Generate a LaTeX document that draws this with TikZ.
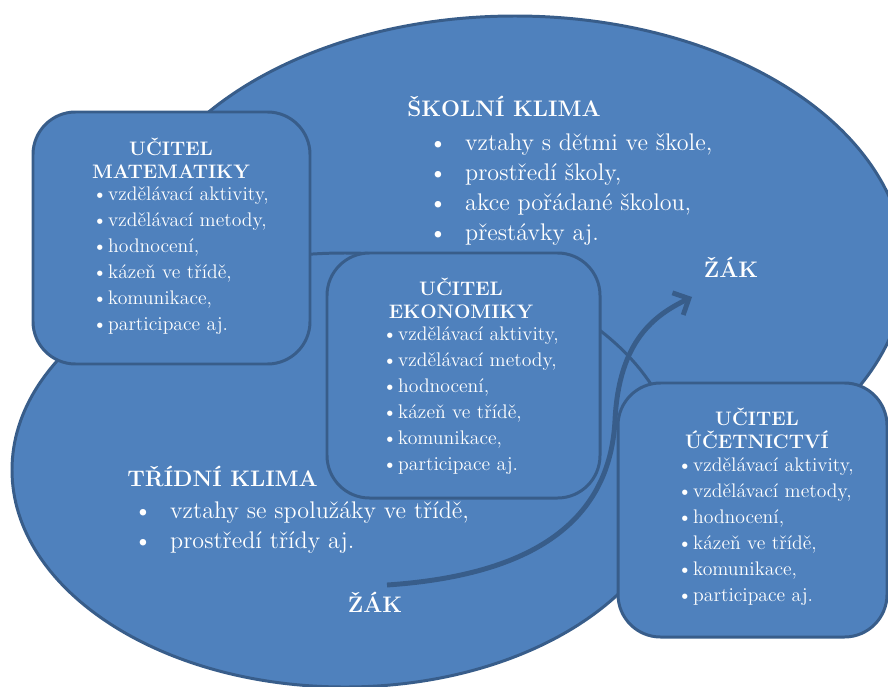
\documentclass[tikz,border=0pt]{standalone}
\usepackage{fontspec}
\usetikzlibrary{arrows.meta}
\definecolor{ellblue}{HTML}{4F81BD}
\definecolor{edgeblue}{HTML}{385D8A}
\newcommand{\teacherlist}[3]{\foreach \txt [count=\i] in {{vzdělávací aktivity,},{vzdělávací metody,},{hodnocení,},{kázeň ve třídě,},{komunikace,},{participace aj.}}
	\node[item] (#3\i) at (#1, {#2+26*(\i-1)}) {\makebox[9pt][l]{\textbullet}\txt};}

\begin{document}
\begin{tikzpicture}[x=0.02cm, y=-0.02cm,
	area/.style={fill=ellblue, draw=edgeblue, line width=1.7pt},
	teacherbox/.style={area, rounded corners=0.85cm},
	head/.style={text=white, font=\fontsize{11.1}{13.3}\selectfont\bfseries, align=center, inner sep=0pt},
	item/.style={text=white, font=\fontsize{11.2}{14}\selectfont, anchor=mid west, inner sep=0pt},
	bigitem/.style={text=white, font=\fontsize{13.7}{17}\selectfont, anchor=mid west, inner sep=0pt},
	bigtitle/.style={text=white, font=\fontsize{12.8}{17}\selectfont\bfseries, inner sep=0pt}]
			%%%%% START %%%%%
			
			\useasboundingbox (0,0) rectangle (888,686);
			\clip (0,0) rectangle (888,686);
			
			\draw[area] (515,268) ellipse [x radius=390, y radius=252];
			\draw[area] (345,470) ellipse [x radius=333, y radius=217];
			
			\draw[teacherbox] (33,112) rectangle (310,364);
			\draw[teacherbox] (327,253) rectangle (600,498);
			\draw[teacherbox] (618,383) rectangle (887,637);
			
			\node[bigtitle, anchor=mid west] (skolniKlima) at (407,113) {ŠKOLNÍ KLIMA};
			\node[bigitem] (skola1) at (428.5,147) {\makebox[20.7pt][l]{\textbullet}vztahy s dětmi ve škole,};
			\node[bigitem] (skola2) at (428.5,177) {\makebox[20.7pt][l]{\textbullet}prostředí školy,};
			\node[bigitem] (skola3) at (428.5,207) {\makebox[20.7pt][l]{\textbullet}akce pořádané školou,};
			\node[bigitem] (skola4) at (428.5,237) {\makebox[20.7pt][l]{\textbullet}přestávky aj.};
			
			\node[bigtitle, anchor=mid west] (tridniKlima) at (127,483) {TŘÍDNÍ KLIMA};
			\node[bigitem] (trida1) at (133.5,515) {\makebox[20.7pt][l]{\textbullet}vztahy se spolužáky ve třídě,};
			\node[bigitem] (trida2) at (133.5,545) {\makebox[20.7pt][l]{\textbullet}prostředí třídy aj.};
			
			\node[bigtitle] (zakNahore) at (731,267) {ŽÁK};
			\node[bigtitle] (zakDole) at (375,602) {ŽÁK};
			
			\node[head] (matHead) at (171,158.5) {UČITEL\\MATEMATIKY};
			\teacherlist{92}{197}{mat}
			
			\node[head] (ekoHead) at (461,298.5) {UČITEL\\EKONOMIKY};
			\teacherlist{382}{337}{eko}
			
			\node[head] (ucetHead) at (757,428.5) {UČITEL\\ÚČETNICTVÍ};
			\teacherlist{677}{468}{ucet}
			
			\coordinate (arrowStart) at (387,585);
			\coordinate (arrowTip) at (692,297);
			\draw[edgeblue, line width=2.8pt, -{Straight Barb[length=7pt,width=14pt]}] (arrowStart) .. controls (535,575) and (610,520) .. (615,420) .. controls (619,340) and (655,315) .. (arrowTip);
			
			%%%%% END %%%%%
\end{tikzpicture}
\end{document}
